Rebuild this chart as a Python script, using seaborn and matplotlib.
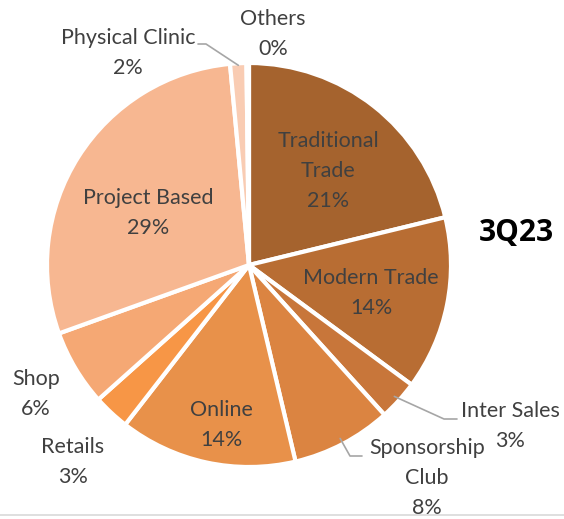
import numpy as np
import matplotlib
matplotlib.use("Agg")
from matplotlib import pyplot as plt
import seaborn as sns

# slice data (clockwise from 12 o'clock)
categories = ["Traditional\nTrade", "Modern Trade", "Inter Sales", "Sponsorship\nClub", "Online",
              "Retails", "Shop", "Project Based", "Physical Clinic", "Others"]
shares = [21.2, 13.9, 3.2, 8.0, 14.2, 2.9, 6.1, 29.0, 1.3, 0.2]
shown_pct = ["21%", "14%", "3%", "8%", "14%", "3%", "6%", "29%", "2%", "0%"]
colors = ["#A5632E", "#B86D33", "#C8763A", "#DB8441", "#E8914A",
          "#F79646", "#F5A874", "#F7B791", "#F9CCB3", "#FBDDCB"]

sns.set_theme(style="white")
plt.rcParams['font.family'] = ['Lato', 'DejaVu Sans']

W, H = 564, 519
fig = plt.figure(figsize=(W / 100, H / 100), dpi=100)
ax = fig.add_axes([0, 0, 1, 1])

cx, cy, R = 249, H - 265, 202
wedges, _ = ax.pie(shares, colors=colors, startangle=90, counterclock=False,
                   center=(cx, cy), radius=R,
                   wedgeprops=dict(edgecolor="white", linewidth=3))
ax.set_xlim(0, W)
ax.set_ylim(0, H)
ax.set_aspect("equal")
ax.axis("off")

txt = "#404040"
# label positions in pixel space (from top-left)
label_pos = {
    0: (328, 171), 1: (371, 293), 2: (510, 426), 3: (427, 478), 4: (221, 425),
    5: (73, 462), 6: (36, 394), 7: (148, 213), 8: (128, 53), 9: (273, 34),
}
for i, (x, y) in label_pos.items():
    ax.text(x, H - y, f"{categories[i]}\n{shown_pct[i]}", ha="center", va="center",
            fontsize=15.5, color=txt, linespacing=1.6)


def edge_point(w, r=1.0):
    a = np.deg2rad((w.theta1 + w.theta2) / 2)
    return cx + R * r * np.cos(a), cy + R * r * np.sin(a)


# leader lines
leaders = {
    8: [(206, 44), (198, 44)],
    2: [(444, 419), (457, 419)],
    3: [(350, 456), (362, 456)],
}
for i, pts in leaders.items():
    x0, y0 = edge_point(wedges[i], 0.99 if i == 8 else 0.97)
    xs = [x0] + [p[0] for p in pts]
    ys = [y0] + [H - p[1] for p in pts]
    ax.plot(xs, ys, color="#A6A6A6", linewidth=1.2)

ax.text(516, H - 233, "3Q23", ha="center", va="center", fontsize=21.5,
        fontweight="bold", color="black", family=["Open Sans", "DejaVu Sans"])

fig.add_artist(plt.Line2D([0, 1], [4 / H, 4 / H], color="#D9D9D9", linewidth=1.2))

fig.savefig("out.png", dpi=100)
